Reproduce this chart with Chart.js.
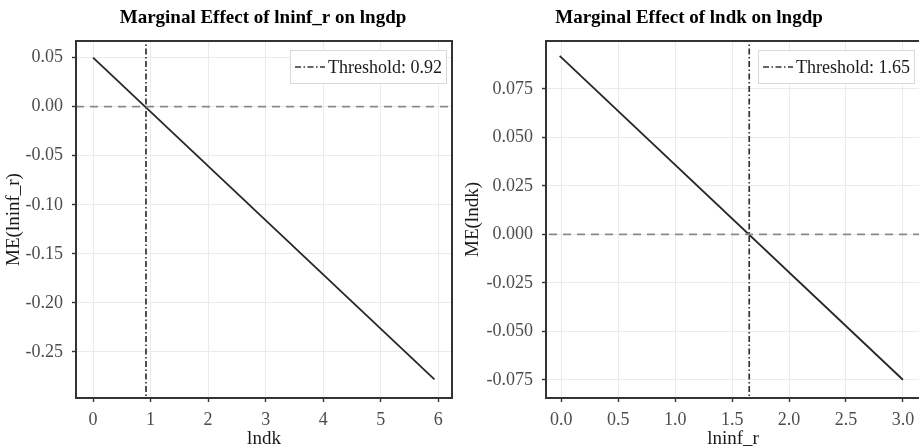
<!DOCTYPE html>
<html><head><meta charset="utf-8">
<script src="https://cdn.jsdelivr.net/npm/chart.js@4"></script>
<style>
html,body{margin:0;padding:0;background:#fff;overflow:hidden;width:919px;height:448px;position:relative;}
#c1{position:absolute;left:0;top:0;width:459px;height:448px;}
#c2{position:absolute;left:459px;top:0;width:470px;height:448px;}
</style></head><body>
<canvas id="c1" width="459" height="448"></canvas>
<canvas id="c2" width="470" height="448"></canvas>
<script>
// ---- Left panel data: marginal effect of lninf_r over lndk ----
const leftTitle = "Marginal Effect of lninf_r on lngdp";
const leftXLabel = "lndk";
const leftYLabel = "ME(lninf_r)";
const lndkValues = [0, 5.935];
const meLninf = [0.050, -0.278];
const leftThreshold = 0.92;
const leftXTicks = [0, 1, 2, 3, 4, 5, 6];
const leftYTicks = [0.05, 0.00, -0.05, -0.10, -0.15, -0.20, -0.25];

// ---- Right panel data: marginal effect of lndk over lninf_r ----
const rightTitle = "Marginal Effect of lndk on lngdp";
const rightXLabel = "lninf_r";
const rightYLabel = "ME(lndk)";
const lninfValues = [-0.015, 3.0];
const meLndk = [0.092, -0.075];
const rightThreshold = 1.65;
const rightXTicks = [0.0, 0.5, 1.0, 1.5, 2.0, 2.5, 3.0];
const rightYTicks = [0.075, 0.050, 0.025, 0.000, -0.025, -0.050, -0.075];

const SERIF = "'Liberation Serif', 'Times New Roman', 'DejaVu Serif', serif";
Chart.defaults.font.family = SERIF;
Chart.defaults.color = '#4d4d4d';

const DASHDOT = [6, 2.5, 1.5, 2.5];

const decorPlugin = {
  id: 'decor',
  afterDatasetsDraw(chart, args, opts) {
    const ctx = chart.ctx, a = chart.chartArea;
    ctx.save();
    // panel frame
    ctx.strokeStyle = '#333333';
    ctx.lineWidth = 2;
    ctx.setLineDash([]);
    ctx.strokeRect(a.left, a.top, a.right - a.left, a.bottom - a.top);
    // legend box
    ctx.font = '18px ' + SERIF;
    const text = 'Threshold: ' + opts.threshold.toFixed(2);
    const tw = ctx.measureText(text).width;
    const h = 34, padL = 5, lineW = 30, gap = 3, padR = 5;
    const w = padL + lineW + gap + tw + padR;
    const x0 = a.right - 5 - w, y0 = a.top + 9;
    ctx.fillStyle = '#ffffff';
    ctx.fillRect(x0, y0, w, h);
    ctx.strokeStyle = '#d9d9d9';
    ctx.lineWidth = 1;
    ctx.strokeRect(x0 + 0.5, y0 + 0.5, w - 1, h - 1);
    ctx.strokeStyle = '#333333';
    ctx.lineWidth = 1.6;
    ctx.setLineDash(DASHDOT);
    ctx.beginPath();
    ctx.moveTo(x0 + padL, y0 + h / 2);
    ctx.lineTo(x0 + padL + lineW, y0 + h / 2);
    ctx.stroke();
    ctx.setLineDash([]);
    ctx.fillStyle = '#1a1a1a';
    ctx.textBaseline = 'middle';
    ctx.textAlign = 'left';
    ctx.fillText(text, x0 + padL + lineW + gap, y0 + h / 2 + 1);
    ctx.restore();
  },
  afterDraw(chart, args, opts) {
    const ctx = chart.ctx;
    ctx.save();
    ctx.font = 'bold 19px ' + SERIF;
    ctx.fillStyle = '#000000';
    ctx.textAlign = 'center';
    ctx.textBaseline = 'alphabetic';
    ctx.fillText(opts.title, opts.titleX, 23);
    ctx.restore();
  }
};

function makeChart(id, cfg) {
  const line = cfg.xs.map((x, i) => ({x: x, y: cfg.ys[i]}));
  return new Chart(document.getElementById(id), {
    type: 'line',
    data: {
      datasets: [
        { data: [{x: -1000, y: 0}, {x: 1000, y: 0}], borderColor: '#8a8a8a', borderWidth: 1.8,
          borderDash: [8, 6], pointRadius: 0, fill: false },
        { data: [{x: cfg.threshold, y: -1000}, {x: cfg.threshold, y: 1000}], borderColor: '#333333',
          borderWidth: 1.7, borderDash: DASHDOT, pointRadius: 0, fill: false },
        { data: line, borderColor: '#262626', borderWidth: 1.8, pointRadius: 0, fill: false, tension: 0 }
      ]
    },
    options: {
      responsive: false,
      animation: false,
      devicePixelRatio: 1,
      layout: { padding: { top: 41, right: cfg.padRight, left: 0, bottom: 0 } },
      plugins: {
        legend: { display: false },
        tooltip: { enabled: false },
        decor: { threshold: cfg.threshold, title: cfg.title, titleX: cfg.titleX }
      },
      scales: {
        x: {
          type: 'linear', min: cfg.xMin, max: cfg.xMax,
          afterBuildTicks: s => { s.ticks = cfg.xTicks.map(v => ({value: v})); },
          afterFit: s => { s.height = 50; },
          border: { display: false },
          grid: { color: '#ebebeb', lineWidth: 1, tickColor: '#333333', tickLength: 4, tickWidth: 1.4 },
          ticks: { font: { size: 18 }, color: '#4d4d4d', padding: 7, maxRotation: 0,
                   callback: v => v.toFixed(cfg.xDec) },
          title: { display: true, text: cfg.xLabel, font: { size: 19 }, color: '#1a1a1a',
                   padding: { top: 0, bottom: -2 } }
        },
        y: {
          type: 'linear', min: cfg.yMin, max: cfg.yMax,
          afterBuildTicks: s => { s.ticks = cfg.yTicks.map(v => ({value: v})); },
          afterFit: s => { s.width = cfg.yWidth; },
          border: { display: false },
          grid: { color: '#ebebeb', lineWidth: 1, tickColor: '#333333', tickLength: 4, tickWidth: 1.4 },
          ticks: { font: { size: 18 }, color: '#4d4d4d', padding: 9,
                   callback: v => v.toFixed(cfg.yDec) },
          title: { display: true, text: cfg.yLabel, font: { size: 19 }, color: '#1a1a1a',
                   padding: { top: 3, bottom: 0 } }
        }
      }
    },
    plugins: [decorPlugin]
  });
}

makeChart('c1', {
  xs: lndkValues, ys: meLninf, threshold: leftThreshold,
  xTicks: leftXTicks, yTicks: leftYTicks, xDec: 0, yDec: 2,
  xMin: -0.297, xMax: 6.24, yMin: -0.297, yMax: 0.067,
  xLabel: leftXLabel, yLabel: leftYLabel, title: leftTitle, titleX: 263,
  yWidth: 76, padRight: 7
});
makeChart('c2', {
  xs: lninfValues, ys: meLndk, threshold: rightThreshold,
  xTicks: rightXTicks, yTicks: rightYTicks, xDec: 1, yDec: 3,
  xMin: -0.135, xMax: 3.15, yMin: -0.0844, yMax: 0.0997,
  xLabel: rightXLabel, yLabel: rightYLabel, title: rightTitle, titleX: 230,
  yWidth: 87, padRight: 9
});
</script>
</body></html>
